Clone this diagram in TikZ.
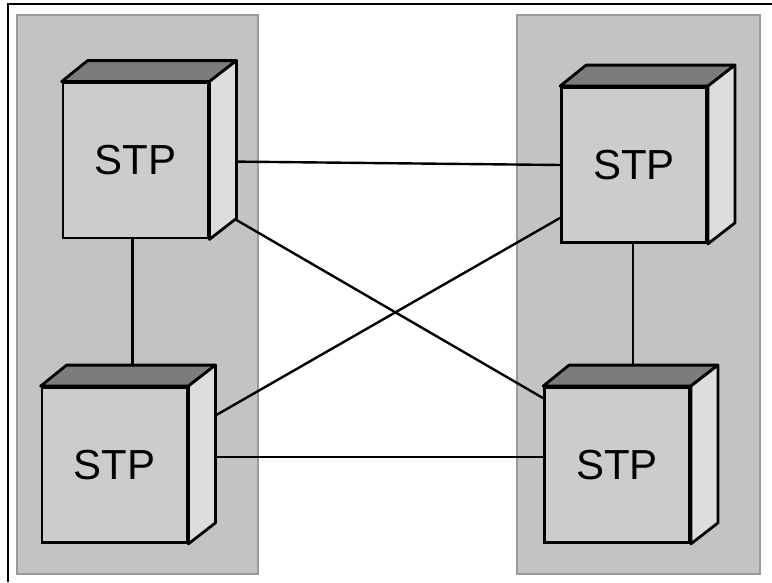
\documentclass[tikz,border=0pt]{standalone}
\usepackage{fontspec}
\setmainfont{Liberation Sans}
\usetikzlibrary{calc}
\pgfdeclarelayer{panels}
\pgfdeclarelayer{links}
\pgfsetlayers{panels,links,main}
\definecolor{panelgray}{HTML}{C3C3C3}
\definecolor{paneledge}{HTML}{9A9A9A}
\definecolor{frontgray}{HTML}{CCCCCC}
\definecolor{topgray}{HTML}{7C7C7C}
\definecolor{sidegray}{HTML}{DDDDDD}
\tikzset{
  panel/.style={fill=panelgray, draw=paneledge, line width=1.6pt},
  cubeface/.style={rectangle, fill=frontgray, draw=black, line width=2.8pt,
    minimum width=145pt, minimum height=155pt, inner sep=0pt,
    font=\fontsize{42}{42}\selectfont},
  cubetop/.style={fill=topgray, draw=black, line width=2.8pt, line join=round},
  cubeside/.style={fill=sidegray, draw=black, line width=2.8pt, line join=round},
  link/.style={draw=black, line width=2.4pt},
}
\newcommand{\stpcube}[3]{%
  \node[cubeface] (#1) at (#2,#3) {STP};
  \draw[cubetop] (#1.north west) -- ++(26,-21) -- ($(#1.north east)+(27,-21)$) -- (#1.north east) -- cycle;
  \draw[cubeside] (#1.north east) -- ++(27,-21) -- ($(#1.south east)+(27,-21)$) -- (#1.south east) -- cycle;
}
\begin{document}
\begin{tikzpicture}[x=1pt,y=-1pt]
\useasboundingbox (0,0) rectangle (772,582);
\begin{pgfonlayer}{panels}
% outer frame
\draw[line width=1.8pt] (772,4) -- (8,4) -- (8,582);
% panels
\draw[panel] (17,15) rectangle (258,574);
\draw[panel] (517,15) rectangle (760,574);
\end{pgfonlayer}
% cubes
\stpcube{tl}{135.5}{160.5}
\stpcube{tr}{634}{165}
\stpcube{bl}{114.5}{465}
\stpcube{br}{617}{465}
% connection points
\coordinate (tlb) at ($(tl.south)+(-3,0)$);
\coordinate (blt) at (tlb |- bl.north);
\coordinate (trb) at ($(tr.south)+(-1,0)$);
\coordinate (brt) at (trb |- br.north);
\begin{pgfonlayer}{links}
\draw[link] ($(tl.north east)+(27,80)$) -- (tr.west);
\draw[link] ($(bl.east)+(26,-8)$) -- ($(br.west)+(0,-8)$);
\draw[link] ($(tl.south east)+(26,-20)$) -- ($(br.north west)+(0,12)$);
\draw[link] ($(bl.north east)+(26,30)$) -- ($(tr.south west)+(0,-26)$);
\draw[link] (tlb) -- (blt);
\draw[link] (trb) -- (brt);
\end{pgfonlayer}
\end{tikzpicture}
\end{document}
